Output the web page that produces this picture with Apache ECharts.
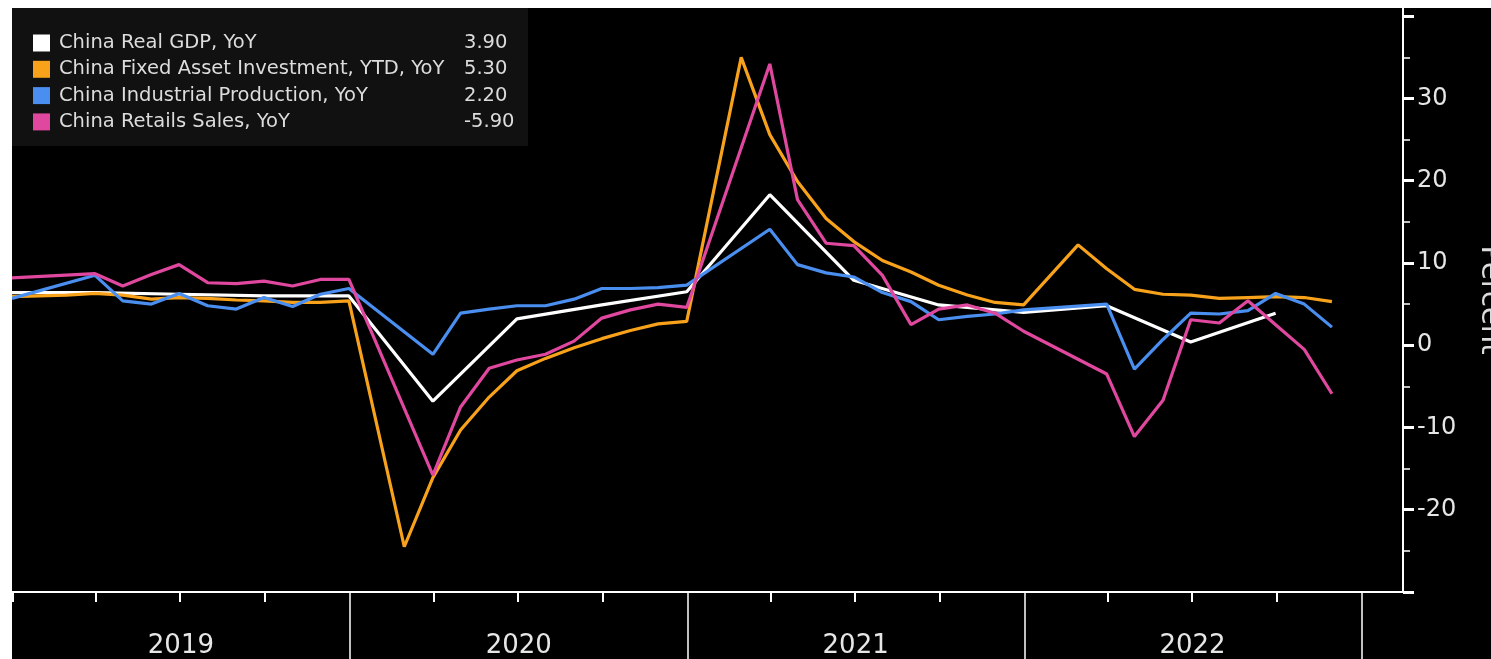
<!DOCTYPE html>
<html>
<head>
<meta charset="utf-8">
<script src="https://cdn.jsdelivr.net/npm/echarts@6/dist/echarts.min.js"></script>
<style>
html,body{margin:0;padding:0;background:#000;}
#chart{width:1491px;height:659px;}
</style>
</head>
<body>
<div id="chart"></div>
<script>
// ---------- data ----------
const seriesNames = [
  'China Real GDP, YoY',
  'China Fixed Asset Investment, YTD, YoY',
  'China Industrial Production, YoY',
  'China Retails Sales, YoY'
];
const legendValues = ['3.90', '5.30', '2.20', '-5.90'];
const lineColors = ['#ffffff', '#f8a21c', '#4a8ff0', '#e0479e'];

// quarterly GDP (quarter-end dates)
const gdpDates = ['2018-12-31','2019-03-31','2019-06-30','2019-09-30','2019-12-31',
  '2020-03-31','2020-06-30','2020-09-30','2020-12-31',
  '2021-03-31','2021-06-30','2021-09-30','2021-12-31',
  '2022-03-31','2022-06-30','2022-09-30'];
const gdpValues = [6.4, 6.4, 6.2, 6.0, 6.0, -6.8, 3.2, 4.9, 6.5, 18.3, 7.9, 4.9, 4.0, 4.8, 0.4, 3.9];

// fixed asset investment YTD (month-end)
const faiMonths = ['2018-12',
  '2019-02','2019-03','2019-04','2019-05','2019-06','2019-07','2019-08','2019-09','2019-10','2019-11','2019-12',
  '2020-02','2020-03','2020-04','2020-05','2020-06','2020-07','2020-08','2020-09','2020-10','2020-11','2020-12',
  '2021-02','2021-03','2021-04','2021-05','2021-06','2021-07','2021-08','2021-09','2021-10','2021-11','2021-12',
  '2022-02','2022-03','2022-04','2022-05','2022-06','2022-07','2022-08','2022-09','2022-10','2022-11'];
const faiValues = [5.9,
  6.1, 6.3, 6.1, 5.6, 5.8, 5.7, 5.5, 5.4, 5.2, 5.2, 5.4,
  -24.5, -16.1, -10.3, -6.3, -3.1, -1.6, -0.3, 0.8, 1.8, 2.6, 2.9,
  35.0, 25.6, 19.9, 15.4, 12.6, 10.3, 8.9, 7.3, 6.1, 5.2, 4.9,
  12.2, 9.3, 6.8, 6.2, 6.1, 5.7, 5.8, 5.9, 5.8, 5.3];

// industrial production & retail sales (month-end)
const monthlyMonths = ['2018-12',
  '2019-03','2019-04','2019-05','2019-06','2019-07','2019-08','2019-09','2019-10','2019-11','2019-12',
  '2020-03','2020-04','2020-05','2020-06','2020-07','2020-08','2020-09','2020-10','2020-11','2020-12',
  '2021-03','2021-04','2021-05','2021-06','2021-07','2021-08','2021-09','2021-10','2021-11','2021-12',
  '2022-03','2022-04','2022-05','2022-06','2022-07','2022-08','2022-09','2022-10','2022-11'];
const ipValues = [5.7,
  8.5, 5.4, 5.0, 6.3, 4.8, 4.4, 5.8, 4.7, 6.2, 6.9,
  -1.1, 3.9, 4.4, 4.8, 4.8, 5.6, 6.9, 6.9, 7.0, 7.3,
  14.1, 9.8, 8.8, 8.3, 6.4, 5.3, 3.1, 3.5, 3.8, 4.3,
  5.0, -2.9, 0.7, 3.9, 3.8, 4.2, 6.3, 5.0, 2.2];
const retailValues = [8.2,
  8.7, 7.2, 8.6, 9.8, 7.6, 7.5, 7.8, 7.2, 8.0, 8.0,
  -15.8, -7.5, -2.8, -1.8, -1.1, 0.5, 3.3, 4.3, 5.0, 4.6,
  34.2, 17.7, 12.4, 12.1, 8.5, 2.5, 4.4, 4.9, 3.9, 1.7,
  -3.5, -11.1, -6.7, 3.1, 2.7, 5.4, 2.5, -0.5, -5.9];

// axis ticks / labels
const xMin = '2018-12-31';
const xMax = '2023-02-15';
const quarterTicks = ['2019-01-01','2019-04-01','2019-07-01','2019-10-01',
  '2020-04-01','2020-07-01','2020-10-01',
  '2021-04-01','2021-07-01','2021-10-01',
  '2022-04-01','2022-07-01','2022-10-01'];
const yearStarts = ['2020-01-01','2021-01-01','2022-01-01','2023-01-01'];
const yearLabelPositions = ['2019-07-02','2020-07-02','2021-07-02','2022-07-02'];
const yearLabels = ['2019','2020','2021','2022'];
const yTicks = [-30,-20,-10,0,10,20,30,40];
const yMinorTicks = [-25,-15,-5,5,15,25,35];
const yLabels = [-20,-10,0,10,20,30];

// ---------- helpers ----------
function day(s){ const p = s.split('-').map(Number); return new Date(p[0], p[1]-1, p[2]).getTime(); }
function monthEnd(s){ const p = s.split('-').map(Number); return new Date(p[0], p[1], 0).getTime(); }
function zip(xs, ys){ return xs.map(function(x,i){ return [x, ys[i]]; }); }

const FONT = 'DejaVu Sans';
const seriesData = [
  zip(gdpDates.map(day), gdpValues),
  zip(faiMonths.map(monthEnd), faiValues),
  zip(monthlyMonths.map(monthEnd), ipValues),
  zip(monthlyMonths.map(monthEnd), retailValues)
];
const yearLabelTs = yearLabelPositions.map(day);

const chart = echarts.init(document.getElementById('chart'));
chart.setOption({
  animation: false,
  backgroundColor: '#000',
  grid: { left: 12, right: 88, top: 8, bottom: 67, outerBoundsMode: 'none', containLabel: false },
  legend: {
    left: 12, top: 8, orient: 'vertical', icon: 'rect',
    itemWidth: 17, itemHeight: 17, itemGap: 6.3,
    backgroundColor: '#111111',
    padding: [25, 12, 14, 21],
    selectedMode: false,
    data: seriesNames,
    formatter: function(name){
      const i = seriesNames.indexOf(name);
      return '{n|' + name + '}{v|' + legendValues[i] + '}';
    },
    textStyle: {
      color: '#dcdcdc', fontFamily: FONT, fontSize: 19.5,
      rich: {
        n: { width: 405, padding: [0,0,0,4], fontSize: 19.5, lineHeight: 20, color: '#dcdcdc', fontFamily: FONT },
        v: { width: 52, fontSize: 19.5, lineHeight: 20, color: '#dcdcdc', fontFamily: FONT }
      }
    }
  },
  xAxis: [
    {
      type: 'value', min: day(xMin), max: day(xMax), position: 'bottom',
      axisLine: { show: true, onZero: false, lineStyle: { color: '#ffffff', width: 2 } },
      axisTick: { show: true, customValues: quarterTicks.map(day), length: 10, lineStyle: { color: '#ffffff', width: 2 } },
      axisLabel: {
        show: true, customValues: yearLabelTs,
        formatter: function(v){
          let best = 0, bd = Infinity;
          yearLabelTs.forEach(function(t, i){ const dd = Math.abs(t - v); if (dd < bd) { bd = dd; best = i; } });
          return yearLabels[best];
        },
        color: '#e6e6e6', fontFamily: FONT, fontSize: 26, margin: 41
      },
      splitLine: { show: false }
    },
    {
      type: 'value', min: day(xMin), max: day(xMax), position: 'bottom',
      axisLine: { show: false, onZero: false },
      axisTick: { show: true, customValues: yearStarts.map(day), length: 70, lineStyle: { color: '#ffffff', width: 1.5 } },
      axisLabel: { show: false },
      splitLine: { show: false }
    }
  ],
  yAxis: [
    {
      type: 'value', position: 'right', min: -30, max: 41, interval: 10,
      axisLine: { show: true, onZero: false, lineStyle: { color: '#ffffff', width: 2 } },
      axisTick: { show: true, customValues: yTicks, length: 11, lineStyle: { color: '#ffffff', width: 3 } },
      axisLabel: { show: true, customValues: yLabels, color: '#e6e6e6', fontFamily: FONT, fontSize: 24, margin: 14 },
      splitLine: { show: false },
      name: 'Percent', nameLocation: 'middle', nameRotate: -90, nameGap: 72,
      nameTextStyle: { color: '#dcdcdc', fontFamily: FONT, fontSize: 29 }
    },
    {
      type: 'value', position: 'right', min: -30, max: 41, interval: 10,
      axisLine: { show: false, onZero: false },
      axisTick: { show: true, customValues: yMinorTicks, length: 7, lineStyle: { color: '#ffffff', width: 1.5 } },
      axisLabel: { show: false },
      splitLine: { show: false }
    }
  ],
  series: seriesNames.map(function(name, i){
    return {
      name: name, type: 'line', xAxisIndex: 0, yAxisIndex: 0,
      data: seriesData[i], showSymbol: false, symbol: 'none',
      lineStyle: { width: 3.2, color: lineColors[i] },
      itemStyle: { color: lineColors[i] },
      emphasis: { disabled: true }
    };
  }),
  graphic: [
    { type: 'rect', z: 100, shape: { x: 0, y: 0, width: 12, height: 659 }, style: { fill: '#ffffff' } },
    { type: 'rect', z: 100, shape: { x: 0, y: 0, width: 1491, height: 8 }, style: { fill: '#ffffff' } }
  ]
});
</script>
</body>
</html>
